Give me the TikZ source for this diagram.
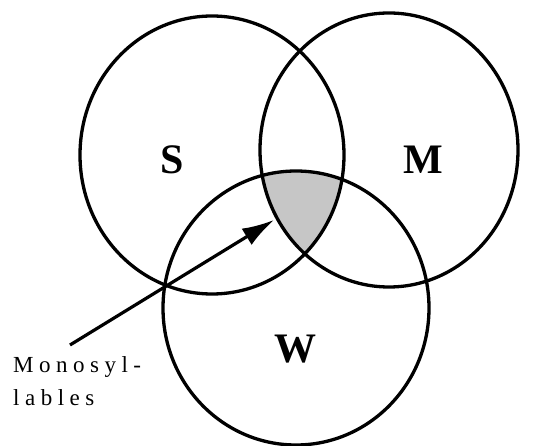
\documentclass[tikz,border=0pt]{standalone}
\usepackage{fontspec}
\setmainfont{Liberation Serif}
\usetikzlibrary{arrows.meta,shapes.geometric}
\begin{document}
\begin{tikzpicture}[x=1pt,y=-1pt,
  setline/.style={draw=black,line width=3.3pt},
  setlabel/.style={font=\fontsize{42}{42}\selectfont\bfseries,inner sep=0pt},
  smalllabel/.style={font=\fontsize{23}{23}\selectfont,inner sep=0pt,anchor=base west},
  pointer/.style={line width=3.2pt,-{Latex[length=32pt,width=19pt]}}
]
\useasboundingbox (0,0) rectangle (557,446);
\fill[white] (0,0) rectangle (557,446);
\def\ls{\kern5.5pt}
% shaded triple intersection
\begin{scope}
  \clip (212,155) ellipse [x radius=132, y radius=139];
  \clip (389,150) ellipse [x radius=129, y radius=137];
  \fill[gray!45] (296,308) ellipse [x radius=133, y radius=137];
\end{scope}
% circles
\node[setline,ellipse,minimum width=264pt,minimum height=278pt,inner sep=0pt] (S) at (212,155) {};
\node[setline,ellipse,minimum width=258pt,minimum height=274pt,inner sep=0pt] (M) at (389,150) {};
\node[setline,ellipse,minimum width=266pt,minimum height=274pt,inner sep=0pt] (W) at (296,308) {};
% labels
\node[setlabel] (Slab) at (172,160) {S};
\node[setlabel] (Mlab) at (423,160) {M};
\node[setlabel] (Wlab) at (295,349) {W};
\node[smalllabel] (mono1) at (13,373) {M\ls o\ls n\ls o\ls s\ls y\ls l\ls -};
\node[smalllabel] (mono2) at (13,405) {l\ls a\ls b\ls l\ls e\ls s};
% pointer
\coordinate (start) at (70,345);
\coordinate (tip) at (274,220);
\draw[pointer] (start) -- (tip);
\end{tikzpicture}
\end{document}
